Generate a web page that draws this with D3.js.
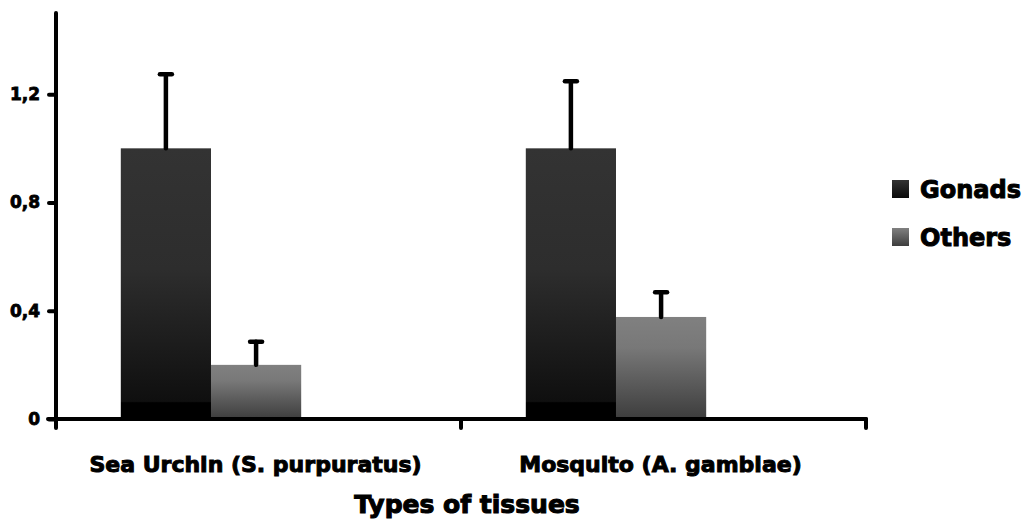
<!DOCTYPE html>
<html>
<head>
<meta charset="utf-8">
<script src="https://cdn.jsdelivr.net/npm/d3@7"></script>
<style>
  html, body { margin: 0; padding: 0; background: #fff; }
  svg { display: block; }
  text { font-family: "DejaVu Sans", "Liberation Sans", sans-serif; font-weight: bold; fill: #000; }
</style>
</head>
<body>
<svg id="chart" width="1029" height="522"></svg>
<script>
// Relative expression by tissue type
const categories = ["Sea Urchin (S. purpuratus)", "Mosquito (A. gambiae)"];
const series = ["Gonads", "Others"];
const gonadsValues = [1.0, 1.0];
const othersValues = [0.2, 0.377];
const gonadsErrors = [0.274, 0.248];
const othersErrors = [0.085, 0.091];
const yTicks = [0, 0.4, 0.8, 1.2];
const yTickLabels = ["0", "0,4", "0,8", "1,2"];
const xTitle = "Types of tissues";

const svg = d3.select("#chart");

const plot = { left: 56, right: 866, top: 13, bottom: 419 };

const y = d3.scaleLinear().domain([0, 1.5]).range([plot.bottom, plot.top]);
const x0 = d3.scaleBand().domain(categories)
  .range([plot.left, plot.right]).paddingInner(0.32).paddingOuter(0.16);
// two bars fill the first two thirds of each group slot
const x1 = d3.scaleBand().domain(series).range([0, x0.bandwidth() * 0.655]);

// gradients
const defs = svg.append("defs");
const gradStops = {
  Gonads: [[0, "#333333"], [0.45, "#2d2d2d"], [0.935, "#0f0f0f"], [0.94, "#000000"], [1, "#000000"]],
  Others: [[0, "#808080"], [0.3, "#787878"], [1, "#3d3d3d"]]
};
const legendStops = {
  Gonads: [[0, "#333333"], [1, "#0a0a0a"]],
  Others: [[0, "#808080"], [1, "#3d3d3d"]]
};
function makeGrad(id, stops) {
  const g = defs.append("linearGradient").attr("id", id)
    .attr("x1", 0).attr("y1", 0).attr("x2", 0).attr("y2", 1);
  stops.forEach(([o, c]) => g.append("stop").attr("offset", o).attr("stop-color", c));
}
series.forEach((s, i) => {
  makeGrad("grad" + i, gradStops[s]);
  makeGrad("lgrad" + i, legendStops[s]);
});

const rows = categories.map((c, i) => ({
  category: c,
  items: [
    { series: "Gonads", si: 0, value: gonadsValues[i], err: gonadsErrors[i] },
    { series: "Others", si: 1, value: othersValues[i], err: othersErrors[i] }
  ]
}));

// bars
const groups = svg.append("g").selectAll("g").data(rows).join("g")
  .attr("transform", d => `translate(${x0(d.category)},0)`);

groups.selectAll("rect").data(d => d.items).join("rect")
  .attr("x", d => x1(d.series))
  .attr("y", d => y(d.value))
  .attr("width", x1.bandwidth())
  .attr("height", d => y(0) - y(d.value))
  .attr("fill", d => `url(#grad${d.si})`);

// error bars (upper only)
const eb = groups.selectAll("g.err").data(d => d.items).join("g").attr("class", "err")
  .attr("stroke", "#000").attr("stroke-width", 4.5).attr("stroke-linecap", "round");
eb.append("line")
  .attr("x1", d => x1(d.series) + x1.bandwidth() / 2)
  .attr("x2", d => x1(d.series) + x1.bandwidth() / 2)
  .attr("y1", d => y(d.value))
  .attr("y2", d => y(d.value + d.err));
eb.append("line")
  .attr("x1", d => x1(d.series) + x1.bandwidth() / 2 - 6)
  .attr("x2", d => x1(d.series) + x1.bandwidth() / 2 + 6)
  .attr("y1", d => y(d.value + d.err))
  .attr("y2", d => y(d.value + d.err));

// y axis
const yAxis = svg.append("g").attr("transform", `translate(${plot.left},0)`)
  .call(d3.axisLeft(y).tickValues(yTicks).tickSize(7).tickPadding(9)
    .tickFormat((d, i) => yTickLabels[i]));
yAxis.select(".domain").remove();
yAxis.selectAll(".tick line").attr("stroke", "#000").attr("stroke-width", 4).attr("stroke-linecap", "round");
yAxis.selectAll(".tick text").attr("font-size", 17).attr("font-family", null).attr("fill", "#000")
  .attr("stroke", "#000").attr("stroke-width", 0.8);
yAxis.append("line")
  .attr("x1", 0).attr("x2", 0).attr("y1", y(1.5)).attr("y2", y(0) + 9)
  .attr("stroke", "#000").attr("stroke-width", 4).attr("stroke-linecap", "round");

// x axis
const xEdges = [plot.left, ...categories.map(c => x0(c) + x0.bandwidth() + x0.step() * x0.paddingInner() / 2)];
const xAxis = svg.append("g");
xAxis.append("line")
  .attr("x1", plot.left - 8).attr("x2", plot.right).attr("y1", y(0)).attr("y2", y(0))
  .attr("stroke", "#000").attr("stroke-width", 4).attr("stroke-linecap", "round");
xAxis.selectAll("line.tk").data(xEdges.slice(1)).join("line").attr("class", "tk")
  .attr("x1", d => d).attr("x2", d => d).attr("y1", y(0)).attr("y2", y(0) + 9)
  .attr("stroke", "#000").attr("stroke-width", 4).attr("stroke-linecap", "round");

xAxis.selectAll("text.cat").data(categories).join("text").attr("class", "cat")
  .attr("x", d => x0(d) + x0.bandwidth() / 2 - 3)
  .attr("y", 472)
  .attr("text-anchor", "middle")
  .attr("font-size", 22)
  .attr("stroke", "#000").attr("stroke-width", 1)
  .text(d => d);

svg.append("text")
  .attr("x", 467)
  .attr("y", 513)
  .attr("text-anchor", "middle")
  .attr("font-size", 25)
  .attr("stroke", "#000").attr("stroke-width", 1.1)
  .text(xTitle);

// legend
const legend = svg.append("g").selectAll("g").data(series).join("g")
  .attr("transform", (d, i) => `translate(892,${180 + i * 48})`);
legend.append("rect").attr("width", 17).attr("height", 18)
  .attr("fill", (d, i) => `url(#lgrad${i})`);
legend.append("text").attr("x", 28).attr("y", 18)
  .attr("font-size", 24)
  .attr("stroke", "#000").attr("stroke-width", 1)
  .text(d => d);
</script>
</body>
</html>
